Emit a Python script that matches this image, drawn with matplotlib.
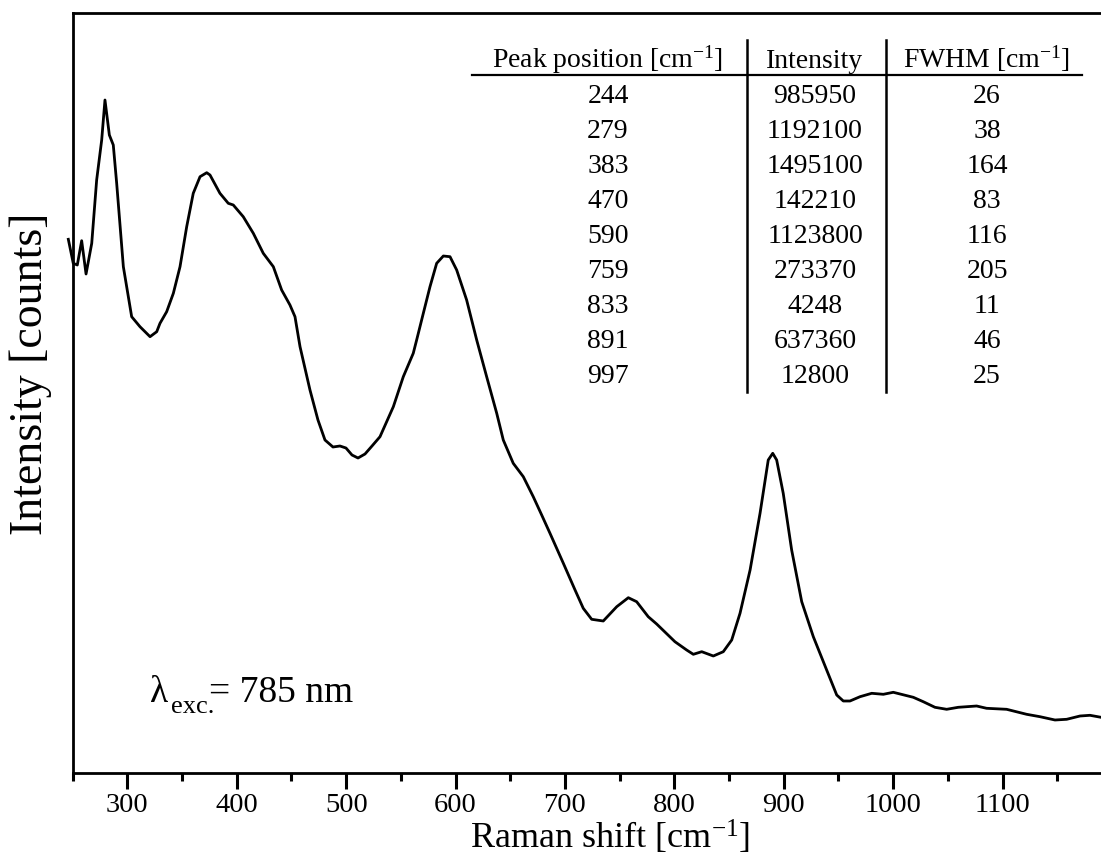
"""Raman spectrum with peak-fit table (785 nm excitation)."""

import matplotlib.pyplot as plt
from matplotlib.ticker import MultipleLocator

plt.rcParams["font.family"] = ["Liberation Serif", "DejaVu Serif"]
plt.rcParams["mathtext.fontset"] = "custom"
plt.rcParams["mathtext.rm"] = "Liberation Serif"
plt.rcParams["mathtext.it"] = "Liberation Serif:italic"
plt.rcParams["mathtext.bf"] = "Liberation Serif:bold"

# spectrum (intensity in arbitrary units)
shift = [
    246.0, 250.5, 254.2, 258.2, 262.2, 267.4, 271.9, 276.5, 279.5, 283.5,
    287.1, 290.2, 296.3, 303.9, 311.5, 320.7, 326.8, 329.8, 335.9, 342.0,
    348.1, 354.2, 360.2, 366.4, 372.5, 375.5, 384.6, 392.2, 396.8, 405.9,
    415.1, 424.2, 433.4, 441.0, 448.6, 453.2, 457.8, 466.9, 474.2, 480.6,
    487.9, 494.3, 499.8, 505.3, 510.8, 517.2, 523.6, 530.9, 543.1, 552.2,
    561.3, 564.4, 570.5, 576.6, 582.7, 588.8, 594.9, 601.0, 610.1, 619.3,
    628.4, 637.6, 643.6, 652.7, 661.9, 671.0, 678.7, 686.3, 698.5, 709.2,
    716.7, 724.4, 735.0, 747.3, 757.9, 765.5, 776.1, 783.8, 800.5, 811.2,
    817.3, 825.0, 835.6, 844.7, 852.4, 860.0, 869.2, 878.3, 885.8, 889.9,
    893.5, 899.5, 907.2, 916.4, 927.0, 939.2, 948.4, 954.4, 960.5, 969.7,
    980.4, 991.0, 1000.1, 1018.4, 1027.5, 1038.2, 1048.9, 1059.5, 1076.3,
    1085.4, 1103.7, 1122.0, 1134.2, 1147.9, 1158.6, 1170.8, 1179.9, 1190.0,
]
intensity = [
    533.7, 509.7, 508.0, 532.3, 499.0, 529.7, 593.0, 633.0, 673.0, 638.0,
    628.0, 589.7, 506.3, 456.3, 446.3, 436.3, 441.3, 449.7, 461.3, 479.7,
    506.3, 546.3, 579.7, 596.3, 600.3, 598.0, 579.7, 569.7, 568.0, 556.3,
    539.7, 519.7, 506.3, 483.0, 468.0, 456.3, 426.3, 383.0, 353.0, 333.0,
    326.0, 327.0, 325.0, 318.0, 315.0, 319.0, 327.0, 336.3, 366.3, 396.3,
    419.7, 433.0, 459.7, 486.3, 509.7, 517.0, 516.3, 503.0, 473.0, 433.0,
    396.3, 359.7, 333.0, 309.7, 296.3, 276.3, 258.0, 239.7, 209.7, 183.0,
    164.7, 153.7, 152.0, 166.3, 175.3, 171.3, 156.3, 149.0, 131.3, 123.0,
    118.7, 121.3, 117.0, 121.3, 133.0, 159.7, 203.0, 259.7, 313.0, 319.7,
    313.0, 279.7, 223.0, 171.3, 136.3, 103.0, 78.0, 72.0, 72.0, 76.3,
    79.7, 78.7, 80.7, 75.7, 71.3, 65.7, 63.7, 65.7, 67.0,
    64.7, 63.7, 58.7, 56.3, 53.0, 53.7, 57.0, 57.7, 55.7,
]

# fitted peak table
headers = ["Peak position [cm$^{-1}$]", "Intensity", "FWHM [cm$^{-1}$]"]
peak_pos = ["244", "279", "383", "470", "590", "759", "833", "891", "997"]
peak_int = ["985950", "1192100", "1495100", "142210", "1123800",
            "273370", "4248", "637360", "12800"]
peak_fwhm = ["26", "38", "164", "83", "116", "205", "11", "46", "25"]

W, H = 1101, 857
ax_l, ax_r, ax_t, ax_b = 72.7, 1106.5, 13.0, 773.0


def fx(x):
    return (x - ax_l) / (ax_r - ax_l)


def fy(y):
    return (ax_b - y) / (ax_b - ax_t)


fig = plt.figure(figsize=(W / 100, H / 100), dpi=100)
ax = fig.add_axes([ax_l / W, (H - ax_b) / H, (ax_r - ax_l) / W, (ax_b - ax_t) / H])

ax.plot(shift, intensity, color="k", lw=2.0, clip_on=False)

ax.set_xlim(250, 1195)
ax.set_ylim(0, 760)
ax.xaxis.set_major_locator(MultipleLocator(100))
ax.xaxis.set_minor_locator(MultipleLocator(50))
ax.set_yticks([])
ax.tick_params(axis="x", which="major", direction="out", length=11.5, width=2.2,
               labelsize=20.5, pad=3)
ax.tick_params(axis="x", which="minor", direction="out", length=6, width=2.2)
for s in ax.spines.values():
    s.set_linewidth(2.0)

ax.set_xlabel("Raman shift [cm$^{-1}$]", fontsize=26)
ax.xaxis.label.set_va("baseline")
ax.xaxis.set_label_coords(fx(610), fy(849))
ax.set_ylabel("Intensity [counts]", fontsize=33)
ax.yaxis.label.set_va("baseline")
ax.yaxis.set_label_coords(fx(42), fy(373.5))

# excitation wavelength note, subscript placed by hand
ax.text(fx(150), fy(701.7), "λ", fontsize=27, va="baseline", transform=ax.transAxes)
ax.text(fx(171), fy(713), "exc.", fontsize=19, va="baseline", transform=ax.transAxes)
ax.text(fx(209), fy(701.7), "= 785 nm", fontsize=27, va="baseline",
        transform=ax.transAxes)

# table
col_x = [608, 815, 987]
row0, row_h = 67.5, 35.1
for j, h in enumerate(headers):
    ax.text(fx(col_x[j]), fy(row0), h, ha="center", va="baseline", fontsize=20,
            transform=ax.transAxes)
for i, cells in enumerate(zip(peak_pos, peak_int, peak_fwhm)):
    for j, c in enumerate(cells):
        ax.text(fx(col_x[j]), fy(row0 + row_h * (i + 1)), c, ha="center",
                va="baseline", fontsize=20, transform=ax.transAxes)
ax.plot([fx(472), fx(1082)], [fy(75), fy(75)], color="k", lw=1.6,
        transform=ax.transAxes, clip_on=False)
for xv in (746.7, 886):
    ax.plot([fx(xv), fx(xv)], [fy(40), fy(391.7)], color="k", lw=1.8,
            transform=ax.transAxes, clip_on=False)

fig.savefig("out.png", dpi=100)
